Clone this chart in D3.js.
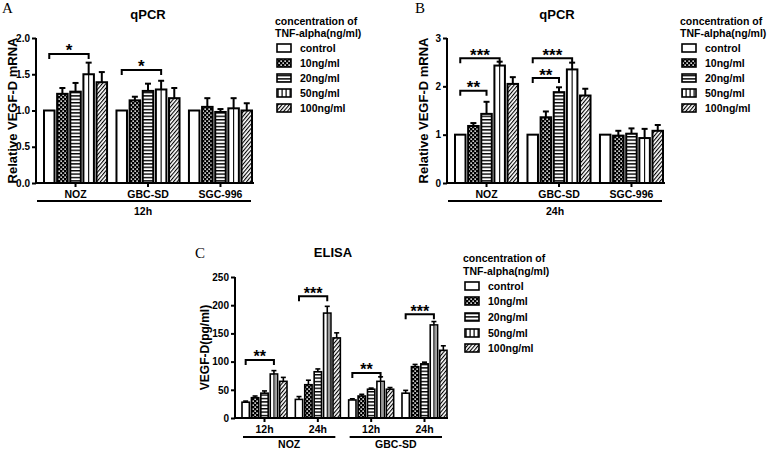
<!DOCTYPE html>
<html><head><meta charset="utf-8">
<script src="https://cdn.jsdelivr.net/npm/d3@7"></script>
<style>
body{margin:0;background:#fff;}
svg{display:block;}
text{font-family:"Liberation Sans",Arial,sans-serif;font-weight:bold;fill:#000;}
.letter{font-family:"Liberation Serif","Times New Roman",serif;font-weight:normal;}
</style></head><body>
<svg id="c" width="778" height="451"></svg>
<script>
// ---------- data ----------
const series = ["control","10ng/ml","20ng/ml","50ng/ml","100ng/ml"];
const legendTitle = ["concentration of","TNF-alpha(ng/ml)"];

const groupsAB = ["NOZ","GBC-SD","SGC-996"];
const meanA = [[1.00,1.23,1.26,1.50,1.39],[1.00,1.14,1.27,1.29,1.17],[1.00,1.05,0.98,1.03,1.00]];
const errA  = [[0.00,0.08,0.12,0.16,0.14],[0.00,0.05,0.10,0.12,0.14],[0.00,0.12,0.04,0.14,0.10]];
const ticksA = [0,0.5,1.0,1.5,2.0];
const sigA = [{g:"NOZ",from:"control",to:"50ng/ml",v:1.78,label:"*"},
              {g:"GBC-SD",from:"control",to:"50ng/ml",v:1.56,label:"*"}];

const meanB = [[1.00,1.18,1.43,2.43,2.05],[1.00,1.36,1.88,2.35,1.81],[1.00,0.98,1.02,0.93,1.08]];
const errB  = [[0.00,0.06,0.25,0.08,0.14],[0.00,0.12,0.10,0.14,0.14],[0.00,0.10,0.11,0.19,0.12]];
const ticksB = [0,1,2,3];
const sigB = [{g:"NOZ",from:"control",to:"50ng/ml",v:2.58,label:"***"},
              {g:"NOZ",from:"control",to:"20ng/ml",v:1.91,label:"**"},
              {g:"GBC-SD",from:"control",to:"50ng/ml",v:2.58,label:"***"},
              {g:"GBC-SD",from:"control",to:"20ng/ml",v:2.17,label:"**"}];

const groupsC = ["NOZ 12h","NOZ 24h","GBC-SD 12h","GBC-SD 24h"];
const timeC = ["12h","24h","12h","24h"];
const cellC = ["NOZ","GBC-SD"];
const meanC = [[28,36,44,78,65],[33,59,82,186,142],[32,39,51,65,51],[44,91,96,165,120]];
const errC  = [[2,3,4,6,7],[5,8,5,12,9],[2,3,2,8,3],[5,4,3,6,8]];
const ticksC = [0,50,100,150,200,250];
const sigC = [{g:"NOZ 12h",from:"control",to:"50ng/ml",v:103,label:"**"},
              {g:"NOZ 24h",from:"control",to:"50ng/ml",v:216,label:"***"},
              {g:"GBC-SD 12h",from:"control",to:"50ng/ml",v:80,label:"**"},
              {g:"GBC-SD 24h",from:"control",to:"50ng/ml",v:184,label:"***"}];

// ---------- setup ----------
const svg = d3.select("#c");
const defs = svg.append("defs");
const pc = defs.append("pattern").attr("id","checker").attr("patternUnits","userSpaceOnUse").attr("width",4).attr("height",4);
pc.append("rect").attr("width",4).attr("height",4).attr("fill","#000");
pc.append("rect").attr("x",0.4).attr("y",0.4).attr("width",1.5).attr("height",1.5).attr("fill","#fff");
pc.append("rect").attr("x",2.4).attr("y",2.4).attr("width",1.5).attr("height",1.5).attr("fill","#fff");
const ph = defs.append("pattern").attr("id","hstripe").attr("patternUnits","userSpaceOnUse").attr("width",4).attr("height",3.4);
ph.append("rect").attr("width",4).attr("height",3.4).attr("fill","#fff");
ph.append("rect").attr("width",4).attr("height",1.4).attr("fill","#000");
const pd = defs.append("pattern").attr("id","diag").attr("patternUnits","userSpaceOnUse").attr("width",2.8).attr("height",2.8).attr("patternTransform","rotate(40)");
pd.append("rect").attr("width",2.8).attr("height",2.8).attr("fill","#fff");
pd.append("rect").attr("width",1.1).attr("height",2.8).attr("fill","#000");
const pv = defs.append("pattern").attr("id","vstripe").attr("patternUnits","userSpaceOnUse").attr("width",4).attr("height",4);
pv.append("rect").attr("width",4).attr("height",4).attr("fill","#fff");
pv.append("rect").attr("x",1.5).attr("width",1.2).attr("height",4).attr("fill","#000");

const fillFor = s => ({"control":"#fff","10ng/ml":"url(#checker)","20ng/ml":"url(#hstripe)","50ng/ml":"#fff","100ng/ml":"url(#diag)"})[s];

function drawPanel(o){
  const g = svg.append("g");
  const y = d3.scaleLinear().domain([0, o.yMax]).range([o.y0, o.y1]);
  const xg = d3.scaleBand().domain(o.groups).range(o.xr).paddingInner(o.padG).paddingOuter(0);
  const xs = d3.scaleBand().domain(series).range([0, xg.bandwidth()]).paddingInner(o.padS).paddingOuter(0);
  o.groups.forEach((grp, gi) => {
    series.forEach((s, si) => {
      const v = o.means[gi][si], e = o.errs[gi][si];
      const bx = xg(grp) + xs(s), bw = xs.bandwidth();
      const cx = bx + bw/2;
      if (e > 0) {
        g.append("line").attr("x1",cx).attr("x2",cx).attr("y1",y(v)).attr("y2",y(v+e)).attr("stroke","#000").attr("stroke-width",o.sw);
        g.append("line").attr("x1",cx-o.cap).attr("x2",cx+o.cap).attr("y1",y(v+e)).attr("y2",y(v+e)).attr("stroke","#000").attr("stroke-width",o.sw);
      }
      g.append("rect").attr("x",bx).attr("y",y(v)).attr("width",bw).attr("height",y(0)-y(v))
        .attr("fill",fillFor(s)).attr("stroke","#000").attr("stroke-width",o.sw);
      if (s === "50ng/ml") {
        if (o.gray) {
          g.append("rect").attr("x",cx+0.5).attr("y",y(v)+o.sw/2).attr("width",bw/2-o.sw/2-0.5).attr("height",y(0)-y(v)-o.sw/2).attr("fill","#9a9a9a");
        }
        g.append("line").attr("x1",cx).attr("x2",cx).attr("y1",y(v)).attr("y2",y(0)).attr("stroke","#000").attr("stroke-width",1.1);
      }
    });
  });
  o.sig.forEach(d => {
    const xa = xg(d.g) + xs(d.from) + xs.bandwidth()/2;
    const xb = xg(d.g) + xs(d.to) + xs.bandwidth()/2;
    const yy = y(d.v);
    g.append("path").attr("d",`M${xa},${yy+5}V${yy}H${xb}V${yy+5}`).attr("fill","none").attr("stroke","#000").attr("stroke-width",2);
    g.append("text").attr("x",(xa+xb)/2).attr("y",yy+2.5).attr("text-anchor","middle").attr("font-size",o.starSize).text(d.label);
  });
  const ya = g.append("g").attr("transform",`translate(${o.axX},0)`)
    .call(d3.axisLeft(y).tickValues(o.ticks).tickFormat(o.fmt).tickSize(4).tickPadding(2));
  ya.select(".domain").attr("stroke-width",2).attr("d",`M0,${o.y0}V${o.y1}`);
  ya.selectAll(".tick line").attr("stroke-width",2);
  ya.selectAll("text").attr("font-size",o.tickSize).attr("font-family","Liberation Sans, Arial, sans-serif").attr("font-weight","bold");
  const xa = g.append("g").attr("transform",`translate(0,${o.y0})`)
    .call(d3.axisBottom(xg).tickSize(4).tickSizeOuter(0).tickPadding(4).tickFormat(o.xfmt || (d=>d)));
  xa.select(".domain").remove();
  xa.selectAll(".tick line").attr("stroke-width",2);
  xa.selectAll("text").attr("font-size",o.xSize).attr("font-family","Liberation Sans, Arial, sans-serif").attr("font-weight","bold");
  g.append("line").attr("x1",o.axX-1).attr("x2",o.xEnd).attr("y1",o.y0).attr("y2",o.y0).attr("stroke","#000").attr("stroke-width",2);
  g.append("text").attr("transform",`translate(${o.ylX},${(o.y0+o.y1)/2}) rotate(-90)`)
    .attr("text-anchor","middle").attr("dy","0.35em").attr("font-size",o.ylSize).text(o.ylabel);
  g.append("text").attr("x",o.titleX).attr("y",o.titleY).attr("text-anchor","middle").attr("font-size",13).text(o.title);
  g.append("text").attr("class","letter").attr("x",o.letX).attr("y",o.letY).attr("font-size",15).text(o.letter);
  return {g, xg, xs, y};
}

function drawLegend(x, rows){
  const g = svg.append("g");
  g.append("text").attr("x",x).attr("y",rows[0]).attr("dy","0.35em").attr("font-size",10.5).text(legendTitle[0]);
  g.append("text").attr("x",x).attr("y",rows[1]).attr("dy","0.35em").attr("font-size",10.5).text(legendTitle[1]);
  const sf = {"control":"#fff","10ng/ml":"url(#checker)","20ng/ml":"url(#hstripe)","50ng/ml":"url(#vstripe)","100ng/ml":"url(#diag)"};
  series.forEach((s,i) => {
    const yy = rows[2+i];
    g.append("rect").attr("x",x+2).attr("y",yy-4).attr("width",14).attr("height",8).attr("fill",sf[s]).attr("stroke","#000").attr("stroke-width",1.6);
    g.append("text").attr("x",x+25).attr("y",yy).attr("dy","0.35em").attr("font-size",10.5).text(s);
  });
}

// ---------- panel A ----------
const A = drawPanel({groups:groupsAB, means:meanA, errs:errA, sig:sigA, yMax:2.0, ticks:ticksA, fmt:d3.format(".1f"),
  y0:183, y1:38, xr:[44,252], padG:0.13, padS:0.2, axX:36, xEnd:254, sw:2, cap:3, starSize:17,
  tickSize:10, xSize:10.5, ylX:12, ylSize:13, ylabel:"Relative VEGF-D mRNA", title:"qPCR", titleX:148, titleY:19,
  letter:"A", letX:2, letY:13});
A.g.append("line").attr("x1",37).attr("x2",251).attr("y1",201).attr("y2",201).attr("stroke","#000").attr("stroke-width",2);
A.g.append("text").attr("x",143).attr("y",211).attr("dy","0.35em").attr("text-anchor","middle").attr("font-size",10.5).text("12h");
drawLegend(275,[21,33,48,63,78,93,108]);

// ---------- panel B ----------
const B = drawPanel({groups:groupsAB, means:meanB, errs:errB, sig:sigB, yMax:3, ticks:ticksB, fmt:d3.format("d"),
  y0:183, y1:38, xr:[455,663], padG:0.13, padS:0.2, axX:447, xEnd:665, sw:2, cap:3, starSize:17,
  tickSize:10, xSize:10.5, ylX:423, ylSize:13, ylabel:"Relative VEGF-D mRNA", title:"qPCR", titleX:557, titleY:19,
  letter:"B", letX:415, letY:13});
B.g.append("line").attr("x1",448).attr("x2",662).attr("y1",201).attr("y2",201).attr("stroke","#000").attr("stroke-width",2);
B.g.append("text").attr("x",555).attr("y",211).attr("dy","0.35em").attr("text-anchor","middle").attr("font-size",10.5).text("24h");
drawLegend(680,[21,33,48,63,78,93,108]);

// ---------- panel C ----------
const C = drawPanel({groups:groupsC, means:meanC, errs:errC, sig:sigC, yMax:250, ticks:ticksC, fmt:d3.format("d"),
  y0:418, y1:277, xr:[242,447], padG:0.156, padS:0.22, axX:235, xEnd:448, sw:1.6, cap:2.5, starSize:16,
  tickSize:10, xSize:10.5, ylX:205, ylSize:12, ylabel:"VEGF-D(pg/ml)", title:"ELISA", titleX:333, titleY:257,
  letter:"C", letX:195, letY:258, gray:true, xfmt:(d,i)=>timeC[i]});
cellC.forEach((c,i) => {
  const a = C.xg(groupsC[2*i]), b = C.xg(groupsC[2*i+1]) + C.xg.bandwidth();
  C.g.append("line").attr("x1",a+1).attr("x2",b-5).attr("y1",437).attr("y2",437).attr("stroke","#000").attr("stroke-width",2);
  C.g.append("text").attr("x",(a+b)/2-2).attr("y",444).attr("dy","0.35em").attr("text-anchor","middle").attr("font-size",10.5).text(c);
});
drawLegend(463,[258,271,286,301,317,333,348]);
</script>
</body></html>
